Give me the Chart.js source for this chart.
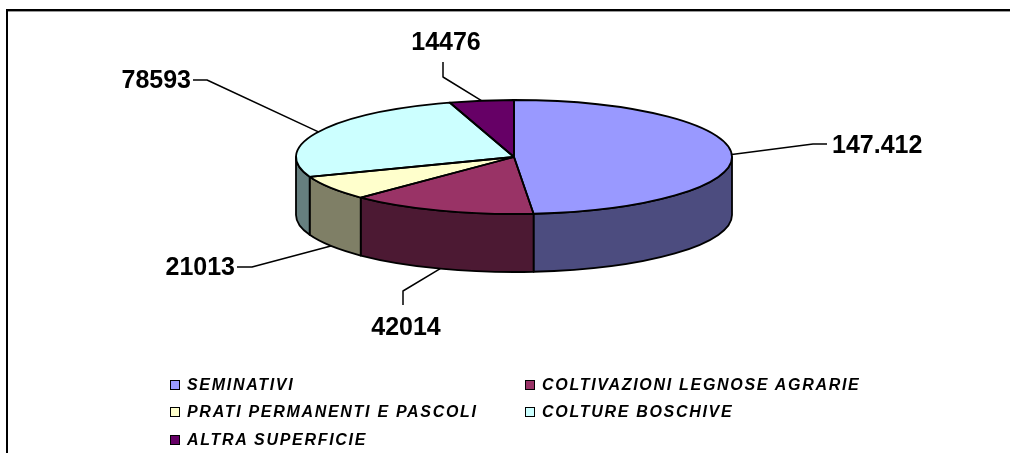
<!DOCTYPE html>
<html>
<head>
<meta charset="utf-8">
<script src="https://cdn.jsdelivr.net/npm/chart.js@4.4.1/dist/chart.umd.min.js"></script>
<style>
    html, body { margin: 0; padding: 0; background: #fff; overflow: hidden; }
    #wrap { position: relative; width: 1010px; height: 453px; }
    #legend {
        position: absolute; left: 170px; top: 371px;
        display: grid; grid-template-columns: 355px 355px; grid-auto-rows: 27.5px;
        font: italic bold 16px "Liberation Sans", Arial, sans-serif;
        letter-spacing: 1.7px; color: #000;
    }
    .item { display: flex; align-items: center; white-space: nowrap; }
    .box { width: 8px; height: 8px; border: 1px solid #000; margin-right: 7px; flex: none; }
</style>
</head>
<body>
<div id="wrap">
    <canvas id="chart" width="1010" height="453"></canvas>
    <div id="legend"></div>
</div>
<script>
// data
const categories = ["SEMINATIVI", "COLTIVAZIONI LEGNOSE AGRARIE", "PRATI PERMANENTI E PASCOLI", "COLTURE BOSCHIVE", "ALTRA SUPERFICIE"];
const values = [147412, 42014, 21013, 78593, 14476];
const valueLabels = ["147.412", "42014", "21013", "78593", "14476"];
const colors = ["#9999FF", "#993366", "#FFFFCC", "#CCFFFF", "#660066"];

const tilt = 57 / 218;   // ellipse squash of the top face
const depth = 58;        // height of the side wall

// where each value label sits (elbow of the leader, end of leader, text anchor)
const labelSpots = [
    { elbow: [813, 144], end: [827, 144], x: 832, y: 153, align: "left" },
    { elbow: [403, 291], end: [403, 305], x: 406, y: 335, align: "center" },
    { elbow: [252, 267], end: [237, 267], x: 235, y: 275, align: "right" },
    { elbow: [207, 80], end: [193, 80], x: 191, y: 88, align: "right" },
    { elbow: [443, 77], end: [443, 62], x: 446, y: 50, align: "center" }
];

function shade(hex) {  // side walls are half as bright
    let n = parseInt(hex.slice(1), 16);
    let r = (n >> 16) >> 1, g = ((n >> 8) & 255) >> 1, b = (n & 255) >> 1;
    return "rgb(" + r + "," + g + "," + b + ")";
}

const framePlugin = {
    id: "frame",
    beforeDraw(chart) {
        let ctx = chart.ctx;
        ctx.save();
        ctx.fillStyle = "#fff";
        ctx.fillRect(0, 0, chart.width, chart.height);
        ctx.strokeStyle = "#999";
        ctx.lineWidth = 1;
        ctx.beginPath();
        ctx.moveTo(8, 11.5); ctx.lineTo(chart.width, 11.5);
        ctx.stroke();
        ctx.strokeStyle = "#000";
        ctx.lineWidth = 2;
        ctx.beginPath();
        ctx.moveTo(7, chart.height); ctx.lineTo(7, 10); ctx.lineTo(chart.width, 10);
        ctx.stroke();
        ctx.restore();
    }
};

const pie3dPlugin = {
    id: "pie3d",
    beforeDatasetsDraw(chart) {
        let ctx = chart.ctx;
        let arcs = chart.getDatasetMeta(0).data;
        ctx.save();
        ctx.lineWidth = 1.8;
        ctx.strokeStyle = "#000";
        ctx.lineJoin = "round";
        // visible part of the outer wall: lower half of the ellipse
        arcs.forEach(function (arc, i) {
            let a = Math.max(arc.startAngle, 0), b = Math.min(arc.endAngle, Math.PI);
            if (a >= b) return;
            let rx = arc.outerRadius, ry = rx * tilt;
            ctx.beginPath();
            ctx.ellipse(arc.x, arc.y, rx, ry, 0, a, b);
            ctx.ellipse(arc.x, arc.y + depth, rx, ry, 0, b, a, true);
            ctx.closePath();
            ctx.fillStyle = shade(colors[i]);
            ctx.fill();
            ctx.stroke();
        });
        // squash the library's circle into the top ellipse
        let c = arcs[0];
        ctx.translate(c.x, c.y);
        ctx.scale(1, tilt);
        ctx.translate(-c.x, -c.y);
    },
    afterDatasetsDraw(chart) {
        let ctx = chart.ctx;
        ctx.restore();
        let arcs = chart.getDatasetMeta(0).data;
        ctx.save();
        ctx.lineWidth = 1.8;
        ctx.strokeStyle = "#000";
        ctx.lineJoin = "round";
        arcs.forEach(function (arc) {
            let rx = arc.outerRadius, ry = rx * tilt;
            ctx.beginPath();
            ctx.moveTo(arc.x, arc.y);
            ctx.ellipse(arc.x, arc.y, rx, ry, 0, arc.startAngle, arc.endAngle);
            ctx.closePath();
            ctx.stroke();
        });
        // leader lines and value labels
        ctx.lineWidth = 1.5;
        ctx.font = "bold 25px 'Liberation Sans', Arial, sans-serif";
        ctx.fillStyle = "#000";
        ctx.textBaseline = "alphabetic";
        arcs.forEach(function (arc, i) {
            let rx = arc.outerRadius, ry = rx * tilt;
            let mid = (arc.startAngle + arc.endAngle) / 2;
            let front = Math.sin(mid) > 0;
            let px = arc.x + rx * Math.cos(mid);
            let py = arc.y + ry * Math.sin(mid) + (front ? depth : 0);
            let spot = labelSpots[i];
            ctx.beginPath();
            ctx.moveTo(px, py);
            ctx.lineTo(spot.elbow[0], spot.elbow[1]);
            ctx.lineTo(spot.end[0], spot.end[1]);
            ctx.stroke();
            ctx.textAlign = spot.align;
            ctx.fillText(valueLabels[i], spot.x, spot.y);
        });
        ctx.restore();
    }
};

let chart = new Chart(document.getElementById("chart"), {
    type: "pie",
    data: {
        labels: categories,
        datasets: [{
            data: values,
            backgroundColor: colors,
            borderWidth: 0,
            radius: 218,
            clip: false
        }]
    },
    options: {
        responsive: false,
        animation: false,
        events: [],
        radius: 218,
        rotation: 0,
        layout: { padding: { left: 80, right: 62, top: 0, bottom: 139 } },
        plugins: {
            legend: { display: false },
            tooltip: { enabled: false }
        }
    },
    plugins: [framePlugin, pie3dPlugin]
});

// legend in two columns, like the original
let legend = document.getElementById("legend");
for (let i = 0; i < categories.length; i++) {
    let item = document.createElement("div");
    item.className = "item";
    let box = document.createElement("span");
    box.className = "box";
    box.style.background = colors[i];
    item.appendChild(box);
    item.appendChild(document.createTextNode(categories[i]));
    legend.appendChild(item);
}
</script>
</body>
</html>
